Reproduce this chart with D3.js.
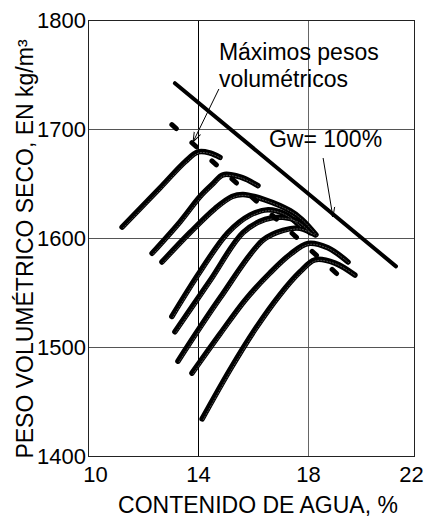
<!DOCTYPE html>
<html>
<head>
<meta charset="utf-8">
<script src="https://cdn.jsdelivr.net/npm/d3@7"></script>
<style>
  html, body { margin: 0; padding: 0; background: #fff; }
  svg { display: block; }
  text { font-family: "Liberation Sans", Arial, Helvetica, sans-serif; fill: #000; }
</style>
</head>
<body>
<svg id="chart" width="428" height="518"></svg>
<script>
// Axis ticks
const xTicks = [10, 14, 18, 22];
const yTicks = [1400, 1500, 1600, 1700, 1800];

// Compaction curves: water content (%) and dry unit weight (kg/m³)
const curveA_w = [11.24, 12.62, 13.53, 14.00, 14.44, 14.80];
const curveA_g = [1610, 1646, 1670, 1679, 1678, 1674];
const curveB_w = [12.33, 13.35, 14.07, 14.55, 14.91, 15.53, 16.18];
const curveB_g = [1586, 1615, 1638, 1650, 1658, 1656, 1648];
const curveC_w = [12.69, 13.71, 14.62, 15.24, 15.64, 16.44, 17.35, 17.78, 18.30];
const curveC_g = [1578, 1605, 1627, 1638, 1640, 1635, 1625, 1617, 1603];
const curveD_w = [13.05, 14.07, 15.09, 15.89, 16.55, 17.16, 17.71];
const curveD_g = [1528, 1569, 1605, 1621, 1626, 1622, 1611];
const curveE_w = [13.16, 14.44, 15.64, 16.44, 17.09, 17.64, 18.08];
const curveE_g = [1514, 1561, 1605, 1617, 1619, 1615, 1605];
const curveF_w = [13.27, 14.80, 16.36, 17.09, 17.71, 18.26];
const curveF_g = [1487, 1545, 1598, 1607, 1609, 1603];
const curveG_w = [13.78, 14.80, 15.71, 16.62, 17.35, 18.00, 18.75, 19.51];
const curveG_g = [1476, 1512, 1543, 1568, 1585, 1595, 1591, 1578];
const curveH_w = [14.15, 15.16, 16.07, 16.98, 17.71, 18.26, 19.02, 19.77];
const curveH_g = [1434, 1479, 1516, 1548, 1569, 1580, 1577, 1566];

// Line through the maxima (dashed) and the saturation line Gw = 100 %
const optimum_w = [13.05, 19.28];
const optimum_g = [1704, 1563];
const saturation_w = [13.16, 21.32];
const saturation_g = [1742, 1574];

const xTitle = "CONTENIDO DE AGUA, %";
const yTitle = "PESO VOLUMÉTRICO SECO, EN kg/m³";
const noteMax = ["Máximos pesos", "volumétricos"];
const noteSat = "Gw= 100%";

const svg = d3.select("#chart");
const pLeft = 88, pRight = 414, pTop = 20, pBottom = 456;

const x = d3.scaleLinear().domain([10, 14, 18, 22]).range([88, 198, 308, 414]);
const y = d3.scaleLinear().domain([1400, 1800]).range([pBottom, pTop]);

// Grid
const grid = svg.append("g");
grid.selectAll("line.v").data([14, 18]).join("line")
  .attr("x1", d => Math.round(x(d)) + 0.5).attr("x2", d => Math.round(x(d)) + 0.5)
  .attr("y1", pTop).attr("y2", pBottom)
  .attr("stroke", d => d === 14 ? "#000" : "#666").attr("stroke-width", 1);
grid.selectAll("line.h").data([1500, 1600, 1700]).join("line")
  .attr("x1", pLeft).attr("x2", pRight)
  .attr("y1", d => Math.round(y(d)) + 0.5).attr("y2", d => Math.round(y(d)) + 0.5)
  .attr("stroke", "#555").attr("stroke-width", 1);

// Frame
svg.append("rect")
  .attr("x", pLeft + 0.5).attr("y", pTop + 0.5)
  .attr("width", pRight - pLeft).attr("height", pBottom - pTop)
  .attr("fill", "none").attr("stroke", "#222").attr("stroke-width", 1);

// Axes (labels only)
const yAxis = svg.append("g").attr("transform", `translate(${pLeft},0)`)
  .call(d3.axisLeft(y).tickValues(yTicks).tickSize(0).tickPadding(2).tickFormat(d3.format("d")));
yAxis.select(".domain").remove();
yAxis.selectAll("text").attr("font-size", 22).attr("font-family", "Liberation Sans, Arial, sans-serif")
  .attr("fill", "#000").attr("dy", "0.36em");

const xAxis = svg.append("g").attr("transform", `translate(0,${pBottom})`)
  .call(d3.axisBottom(x).tickValues(xTicks).tickSize(0).tickPadding(0).tickFormat(d3.format("d")));
xAxis.select(".domain").remove();
// end labels sit just inside the frame corners
xAxis.selectAll("text").attr("font-size", 22).attr("font-family", "Liberation Sans, Arial, sans-serif")
  .attr("fill", "#000").attr("y", 26).attr("dy", 0)
  .attr("dx", d => d === xTicks[0] ? 7 : (d === xTicks[xTicks.length - 1] ? -3 : 0));

// Axis titles
svg.append("text").attr("x", 258).attr("y", 513).attr("text-anchor", "middle")
  .attr("font-size", 23).text(xTitle);
svg.append("text").attr("transform", "translate(33,249) rotate(-90)")
  .attr("text-anchor", "middle").attr("font-size", 23).text(yTitle);

// Curves
const line = d3.line().x(d => x(d[0])).y(d => y(d[1])).curve(d3.curveCatmullRom.alpha(0.5));
const zip = (w, g) => w.map((v, i) => [v, g[i]]);
const curves = [
  zip(curveA_w, curveA_g), zip(curveB_w, curveB_g), zip(curveC_w, curveC_g),
  zip(curveD_w, curveD_g), zip(curveE_w, curveE_g), zip(curveF_w, curveF_g),
  zip(curveG_w, curveG_g), zip(curveH_w, curveH_g)
];

const plot = svg.append("g");
curves.forEach(c => {
  plot.append("path").attr("d", line(c)).attr("fill", "none")
    .attr("stroke", "#000").attr("stroke-width", 5.5).attr("stroke-linecap", "round");
});
// faint light core running along each curve
curves.forEach(c => {
  plot.append("path").attr("d", line(c)).attr("fill", "none")
    .attr("stroke", "#bbb").attr("stroke-width", 0.6).attr("stroke-opacity", 0.7)
    .attr("stroke-dasharray", "2,1")
    .attr("transform", "translate(1,1)");
});

// Saturation line
plot.append("path").attr("d", d3.line().x(d => x(d[0])).y(d => y(d[1]))(zip(saturation_w, saturation_g)))
  .attr("fill", "none").attr("stroke", "#000").attr("stroke-width", 4).attr("stroke-linecap", "round");

// Line of maxima
plot.append("path").attr("d", d3.line().x(d => x(d[0])).y(d => y(d[1]))(zip(optimum_w, optimum_g)))
  .attr("fill", "none").attr("stroke", "#000").attr("stroke-width", 5)
  .attr("stroke-linecap", "round").attr("stroke-dasharray", "6,21");

// Annotations
const defs = svg.append("defs");
defs.append("marker").attr("id", "arrow").attr("viewBox", "0 -5 10 10")
  .attr("refX", 10).attr("refY", 0).attr("markerWidth", 10).attr("markerHeight", 10)
  .attr("markerUnits", "userSpaceOnUse").attr("orient", "auto")
  .append("path").attr("d", "M0,-3.5L10,0L0,3.5").attr("fill", "none")
  .attr("stroke", "#000").attr("stroke-width", 1);

const notes = svg.append("g");
notes.append("text").attr("x", x(14.76)).attr("y", y(1763.3)).attr("font-size", 23).text(noteMax[0]);
notes.append("text").attr("x", x(14.76)).attr("y", y(1738.5)).attr("font-size", 23).text(noteMax[1]);
notes.append("text").attr("x", x(16.58)).attr("y", y(1683.5)).attr("font-size", 23).text(noteSat);

notes.append("line")
  .attr("x1", x(14.76)).attr("y1", y(1736.7)).attr("x2", x(13.82)).attr("y2", y(1688.1))
  .attr("stroke", "#000").attr("stroke-width", 1).attr("marker-end", "url(#arrow)");
notes.append("line")
  .attr("x1", x(18.57)).attr("y1", y(1673.4)).attr("x2", x(18.94)).attr("y2", y(1619.3))
  .attr("stroke", "#000").attr("stroke-width", 1).attr("marker-end", "url(#arrow)");
</script>
</body>
</html>
